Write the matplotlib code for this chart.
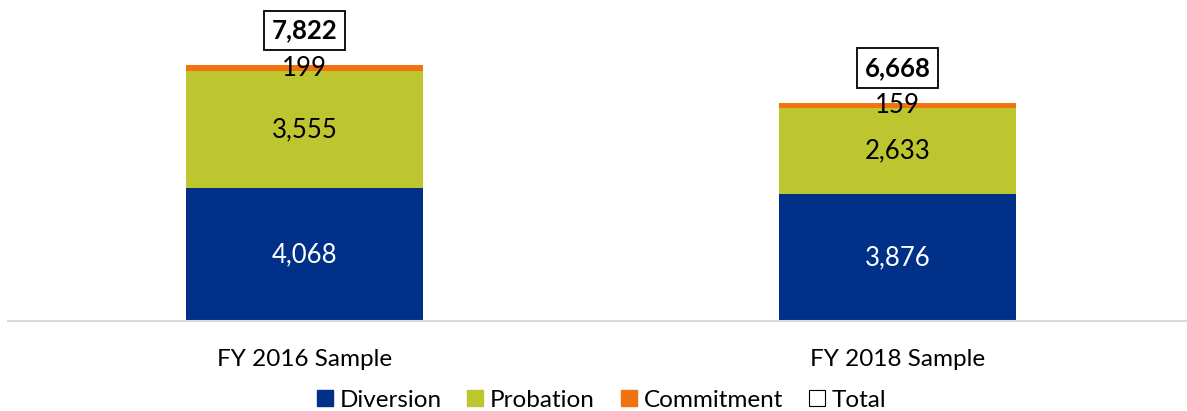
import matplotlib.pyplot as plt
from matplotlib.lines import Line2D

plt.rcParams['font.family'] = ['Lato', 'DejaVu Sans']

categories = ['FY 2016 Sample', 'FY 2018 Sample']
diversion = [4068, 3876]
probation = [3555, 2633]
commitment = [199, 159]
totals = [7822, 6668]

c_div = '#003087'
c_prob = '#BDC62F'
c_com = '#F0730F'

fig = plt.figure(figsize=(11.87, 4.11), dpi=100)
ax = fig.add_axes([8 / 1187, 1 - 321 / 411, 1178 / 1187, 321 / 411])

x = range(len(categories))
w = 0.4
ax.bar(x, diversion, w, color=c_div)
bottom2 = diversion
ax.bar(x, probation, w, bottom=bottom2, color=c_prob)
bottom3 = [a + b for a, b in zip(diversion, probation)]
ax.bar(x, commitment, w, bottom=bottom3, color=c_com)

for i in x:
    ax.text(i, diversion[i] / 2, f'{diversion[i]:,}', ha='center', va='center',
            fontsize=18.5, color='white')
    ax.text(i, diversion[i] + probation[i] / 2, f'{probation[i]:,}', ha='center',
            va='center', fontsize=18.5, color='black')
    ax.text(i, bottom3[i] + commitment[i] / 2, f'{commitment[i]:,}', ha='center',
            va='center', fontsize=18.5, color='black')
    ax.annotate(f'{totals[i]:,}', (i, totals[i]), xytext=(0, 25),
                textcoords='offset points', ha='center', va='center',
                fontsize=18.5, fontweight='bold',
                bbox=dict(boxstyle='square,pad=0.3', fc='white', ec='black', lw=1.3))

ax.set_xlim(-0.5, 1.4865)
ax.set_ylim(0, 9807)
ax.set_xticks(list(x))
ax.set_xticklabels(categories, fontsize=17.5)
ax.tick_params(axis='x', length=0, pad=20)
ax.set_yticks([])
for s in ['top', 'right', 'left']:
    ax.spines[s].set_visible(False)
ax.spines['bottom'].set_color('#d9d9d9')
ax.spines['bottom'].set_linewidth(1.5)

handles = [
    Line2D([], [], ls='none', marker='s', ms=11, mfc=c_div, mec=c_div),
    Line2D([], [], ls='none', marker='s', ms=11, mfc=c_prob, mec=c_prob),
    Line2D([], [], ls='none', marker='s', ms=11, mfc=c_com, mec=c_com),
    Line2D([], [], ls='none', marker='s', ms=11, mfc='white', mec='black', mew=0.8),
]
fig.legend(handles, ['Diversion', 'Probation', 'Commitment', 'Total'],
           loc='center', bbox_to_anchor=(0.507, 1 - 400 / 411), ncol=4,
           frameon=False, fontsize=17.5, handlelength=0.6, handletextpad=0.3,
           columnspacing=1.1)

fig.savefig('out.png', dpi=100)
